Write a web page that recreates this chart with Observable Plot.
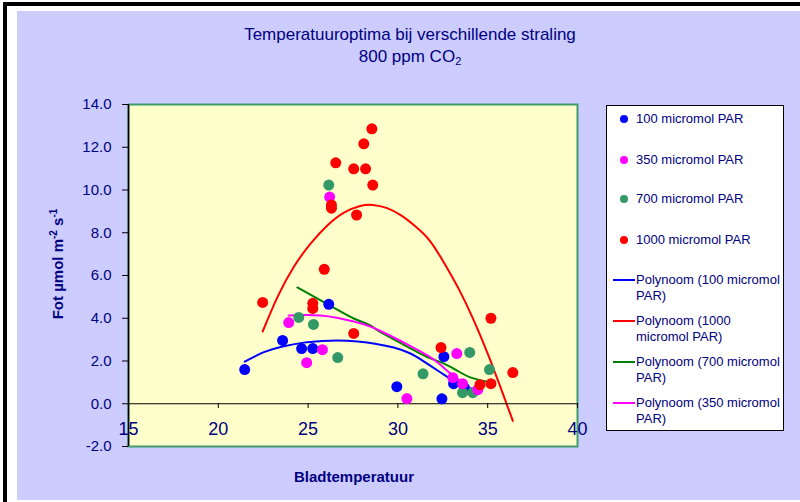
<!DOCTYPE html>
<html>
<head>
<meta charset="utf-8">
<script src="https://cdn.jsdelivr.net/npm/d3@7"></script>
<script src="https://cdn.jsdelivr.net/npm/@observablehq/plot@0.6"></script>
<style>
  body { margin: 0; background: #fff; font-family: "Liberation Sans", Arial, sans-serif; }
  #wrap { position: relative; width: 800px; height: 502px; overflow: hidden; }
  #border { position: absolute; left: 3px; top: 2px; width: 900px; height: 600px; border-left: 4px solid #000; border-top: 4px solid #000; }
  #panel { position: absolute; left: 17px; top: 11px; width: 800px; height: 489px; background: #CCCCFF; }
  #title { position: absolute; left: 0; width: 820px; top: 24px; text-align: center; color: #000080; font-size: 17px; line-height: 22px; }
  #title sub { font-size: 11px; vertical-align: -3px; line-height: 0; }
  #chart { position: absolute; left: 0; top: 0; }
  #ylab { position: absolute; left: 57px; top: 264px; transform: translate(-50%, -50%) rotate(-90deg); white-space: nowrap; color: #000080; font-weight: bold; font-size: 15px; }
  #ylab sup { font-size: 10px; vertical-align: 6px; line-height: 0; }
  #xlab { position: absolute; left: 354px; top: 476px; transform: translate(-50%, -50%); white-space: nowrap; color: #000080; font-weight: bold; font-size: 15px; }
  #legend { position: absolute; left: 606px; top: 105px; width: 176px; height: 324px; background: #fff; border: 1px solid #000; }
  .lt { position: absolute; left: 29px; color: #000080; font-size: 13px; line-height: 16px; white-space: nowrap; }
  .lm { position: absolute; left: 13px; width: 8px; height: 8px; border-radius: 50%; }
  .ll { position: absolute; left: 6px; width: 22px; height: 2px; }
</style>
</head>
<body>
<div id="wrap">
  <div id="border"></div>
  <div id="panel"></div>
  <div id="title">Temperatuuroptima bij verschillende straling<br>800 ppm CO<sub>2</sub></div>
  <div id="chart"></div>
  <div id="ylab">Fot µmol m<sup>-2</sup> s<sup>-1</sup></div>
  <div id="xlab">Bladtemperatuur</div>
  <div id="legend"></div>
</div>
<script>
// ---- data ----
const xTicks = [15, 20, 25, 30, 35, 40];
const yTicks = [-2, 0, 2, 4, 6, 8, 10, 12, 14];

const par100X = [21.47, 23.58, 24.64, 25.26, 26.15, 29.94, 32.56, 32.45, 33.1, 33.7];
const par100Y = [1.6, 2.96, 2.58, 2.58, 4.65, 0.8, 2.2, 0.23, 0.94, 0.75];

const par350X = [26.2, 23.92, 25.8, 24.92, 30.5, 33.28, 33.06, 33.6, 34.45];
const par350Y = [9.67, 3.8, 2.53, 1.92, 0.24, 2.35, 1.22, 0.94, 0.66];

const par700X = [26.15, 24.48, 25.3, 26.65, 31.4, 34.0, 35.1, 33.6, 34.17];
const par700Y = [10.23, 4.04, 3.71, 2.16, 1.4, 2.4, 1.6, 0.52, 0.52];

const par1000X = [22.47, 25.26, 25.26, 27.54, 25.9, 26.3, 26.3, 26.54, 27.7, 27.54, 28.2, 28.1, 28.55, 28.6, 32.4, 35.18, 36.4, 34.57, 35.18];
const par1000Y = [4.74, 4.7, 4.46, 3.29, 6.29, 9.3, 9.15, 11.27, 8.83, 10.99, 10.99, 12.16, 12.86, 10.23, 2.63, 4.0, 1.46, 0.89, 0.94];

// trendlines (Polynoom)
const fit100X = [21.47, 22.5, 23.58, 24.75, 25.7, 26.65, 27.76, 28.8, 29.77, 30.7, 31.5, 32.4, 33.1, 33.9];
const fit100Y = [1.97, 2.4, 2.68, 2.86, 2.93, 2.96, 2.91, 2.8, 2.63, 2.35, 1.95, 1.45, 1.05, 0.5];

const fit350X = [23.92, 24.8, 25.7, 26.6, 27.54, 28.5, 29.77, 30.7, 31.67, 32.4, 32.95, 33.5, 34.0, 34.45];
const fit350Y = [4.13, 4.15, 4.13, 4.02, 3.85, 3.6, 3.1, 2.7, 2.25, 1.8, 1.4, 1.05, 0.75, 0.6];

const fit700X = [24.4, 25.7, 26.6, 27.54, 28.38, 28.88, 29.8, 30.72, 31.6, 32.56, 33.3, 34.07, 35.18];
const fit700Y = [5.44, 4.84, 4.41, 3.99, 3.7, 3.43, 3.0, 2.58, 2.2, 1.88, 1.55, 1.22, 0.99];

const fit1000X = [22.47, 23.3, 24.2, 25.15, 26.1, 27.0, 27.9, 28.6, 29.4, 30.2, 31.0, 31.8, 32.6, 33.4, 34.2, 35.0, 35.7, 36.4];
const fit1000Y = [3.38, 5.0, 6.4, 7.5, 8.36, 8.94, 9.25, 9.3, 9.15, 8.8, 8.28, 7.6, 6.55, 5.35, 3.95, 2.35, 0.8, -0.8];

const seriesNames = ["100 micromol PAR", "350 micromol PAR", "700 micromol PAR", "1000 micromol PAR"];
const fitNames = [["Polynoom (100 micromol", "PAR)"], ["Polynoom (1000", "micromol PAR)"], ["Polynoom (700 micromol", "PAR)"], ["Polynoom (350 micromol", "PAR)"]];
const dotColors = ["#0000FF", "#FF00FF", "#339966", "#FF0000"];
const fitColors = ["#0000FF", "#FF0000", "#008000", "#FF00FF"];

const rows = (xs, ys) => xs.map((x, i) => ({x, y: ys[i]}));

const dotMark = (xs, ys, c) => Plot.dot(rows(xs, ys), {x: "x", y: "y", r: 5.5, fill: c, stroke: "none"});
const lineMark = (xs, ys, c) => Plot.line(rows(xs, ys), {x: "x", y: "y", stroke: c, strokeWidth: 2, curve: "natural"});

const chart = Plot.plot({
  width: 800,
  height: 502,
  marginLeft: 128,
  marginRight: 223,
  marginTop: 104,
  marginBottom: 56,
  x: {domain: [15, 40]},
  y: {domain: [-2, 14]},
  style: {background: "transparent", fontFamily: "'Liberation Sans', Arial, sans-serif"},
  marks: [
    Plot.frame({fill: "#FFFFCC", stroke: "#3C9C6C", strokeWidth: 2}),
    lineMark(fit100X, fit100Y, fitColors[0]),
    lineMark(fit1000X, fit1000Y, fitColors[1]),
    lineMark(fit700X, fit700Y, fitColors[2]),
    lineMark(fit350X, fit350Y, fitColors[3]),
    Plot.ruleY([0], {stroke: "#000"}),
    Plot.axisY({ticks: yTicks, tickSize: 6, tickPadding: 11, tickFormat: d => d.toFixed(1), fontSize: 15, fill: "#000080", stroke: "#000", label: null}),
    Plot.axisX({ticks: xTicks, tickSize: 5, tickPadding: 14, dy: -43, fontSize: 18, fill: "#000080", stroke: "#000", label: null}),
    Plot.ruleX([15], {stroke: "#000", strokeWidth: 1.5}),
    dotMark(par100X, par100Y, dotColors[0]),
    dotMark(par700X, par700Y, dotColors[2]),
    dotMark(par350X, par350Y, dotColors[1]),
    dotMark(par1000X, par1000Y, dotColors[3])
  ]
});
document.getElementById("chart").appendChild(chart);

// legend
const legend = document.getElementById("legend");
const markerTops = [13, 54, 93, 134];
seriesNames.forEach((name, i) => {
  const m = document.createElement("div");
  m.className = "lm";
  m.style.top = (markerTops[i] - 4) + "px";
  m.style.background = dotColors[i];
  legend.appendChild(m);
  const t = document.createElement("div");
  t.className = "lt";
  t.style.top = (markerTops[i] - 8) + "px";
  t.textContent = name;
  legend.appendChild(t);
});
const lineTops = [174, 215, 256, 297];
fitNames.forEach((lines, i) => {
  const l = document.createElement("div");
  l.className = "ll";
  l.style.top = (lineTops[i] - 1) + "px";
  l.style.background = fitColors[i];
  legend.appendChild(l);
  const t = document.createElement("div");
  t.className = "lt";
  t.style.top = (lineTops[i] - 8) + "px";
  t.innerHTML = lines.join("<br>");
  legend.appendChild(t);
});
</script>
</body>
</html>
